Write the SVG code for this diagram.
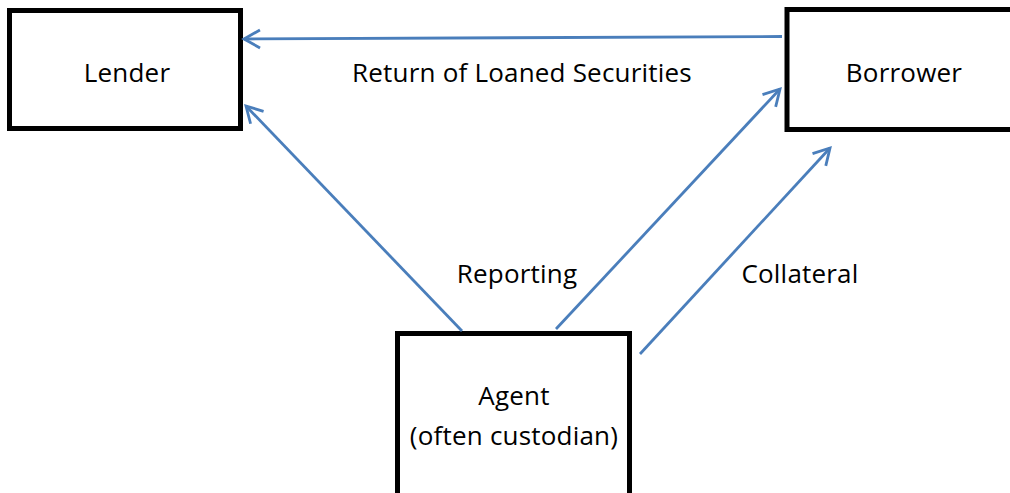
<svg xmlns="http://www.w3.org/2000/svg" width="1010" height="493" viewBox="0 0 1010 493">
  <style>
    .box { fill: #ffffff; stroke: #000000; stroke-width: 5; }
    .label { font-family: "Open Sans", Lato, "Liberation Sans", sans-serif; font-size: 26px; letter-spacing: 0.2px; fill: #000000; text-anchor: middle; }
    .flow { stroke: #4A7EBB; stroke-width: 2.8; fill: none; marker-end: url(#open-arrow); }
  </style>
  <defs>
    <marker id="open-arrow" markerUnits="userSpaceOnUse" markerWidth="40" markerHeight="40" viewBox="-20 -20 40 40" refX="0" refY="0" orient="auto">
      <path d="M-16,-9 L0,0 L-16,9" fill="none" stroke="#4A7EBB" stroke-width="2.8" stroke-linejoin="miter"/>
    </marker>
  </defs>
  <rect width="1010" height="493" fill="#ffffff"/>

  <g id="lender">
    <rect class="box" x="9.5" y="10.5" width="231" height="118"/>
    <text class="label" x="127" y="82">Lender</text>
  </g>

  <g id="borrower">
    <rect class="box" x="787" y="9.5" width="234" height="120"/>
    <text class="label" x="904" y="82">Borrower</text>
  </g>

  <g id="agent">
    <rect class="box" x="397.5" y="333.5" width="232" height="170"/>
    <text class="label" x="514" y="405">Agent</text>
    <text class="label" x="514" y="445">(often custodian)</text>
  </g>

  <g id="connectors">
    <line class="flow" x1="782" y1="36.5" x2="244" y2="39"/>
    <line class="flow" x1="462" y1="331" x2="246" y2="106"/>
    <line class="flow" x1="556" y1="329" x2="780" y2="89"/>
    <line class="flow" x1="640" y1="354" x2="830" y2="148"/>
    <text class="label" x="522" y="82">Return of Loaned Securities</text>
    <text class="label" x="517" y="283">Reporting</text>
    <text class="label" x="800" y="283">Collateral</text>
  </g>
</svg>
